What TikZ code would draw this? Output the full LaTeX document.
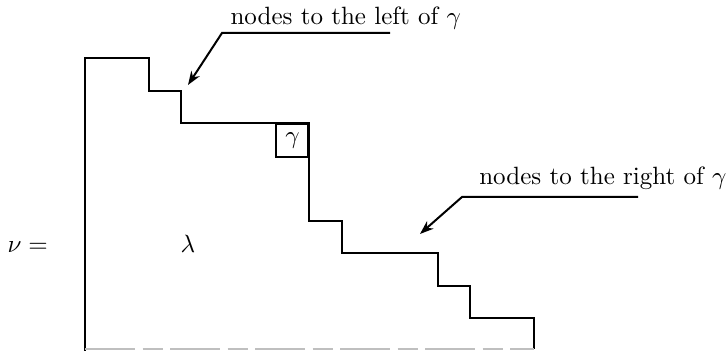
\documentclass[tikz,border=0pt]{standalone}
\usetikzlibrary{arrows.meta, positioning, calc}

\begin{document}
\begin{tikzpicture}[
  x=0.4pt, y=0.4pt,
  >={Stealth[length=5.5pt, width=4pt]},
  every node/.style={inner sep=0pt},
  outline/.style={line width=0.8pt},
  pointer/.style={line width=0.8pt, ->},
]

\useasboundingbox (0,0) rectangle (728,351);

% ============ Diagram of nu (cell units) ============
\def\cw{12.828pt}  % cell width
\def\ch{13.02pt}   % cell height
\begin{scope}[xshift=34pt, x=\cw, y=\ch]
  % staircase boundary
  \draw[outline] (0,0) -- (0,9) -- (2,9) -- (2,8) -- (3,8) -- (3,7)
    -- (7,7) -- (7,4) -- (8,4) -- (8,3) -- (11,3) -- (11,2)
    -- (12,2) -- (12,1) -- (14,1) -- (14,0.05);
  % faint bottom edge
  \draw[black!25, line width=0.8pt, dash pattern=on 20pt off 3pt on 8pt off 3pt] (0,0.05) -- (14,0.05);
  % the cell gamma
  \node[draw, outline, minimum width=\cw, minimum height=\ch, anchor=north east]
    (gam) at (7,7) {$\gamma$};
\end{scope}

% Left part
\node[anchor=base west] (nu) at (7,98) {$\nu =$};
\node[anchor=base] (lam) at (188,98) {$\lambda$};

% ============ Labels ============
\node[anchor=base west] (lefttxt) at (230,326) {nodes to the left of $\gamma$};
\coordinate (lend) at (390,318);
\coordinate (lbend) at (222,318);
\coordinate (ltip) at (188,266);
\draw[pointer] (lend) -- (lbend) -- (ltip);

\node[anchor=base east] (righttxt) at (727,166) {nodes to the right of $\gamma$};
\coordinate (rend) at (638,154);
\coordinate (rbend) at (462,154);
\coordinate (rtip) at (420,117);
\draw[pointer] (rend) -- (rbend) -- (rtip);

\end{tikzpicture}
\end{document}
